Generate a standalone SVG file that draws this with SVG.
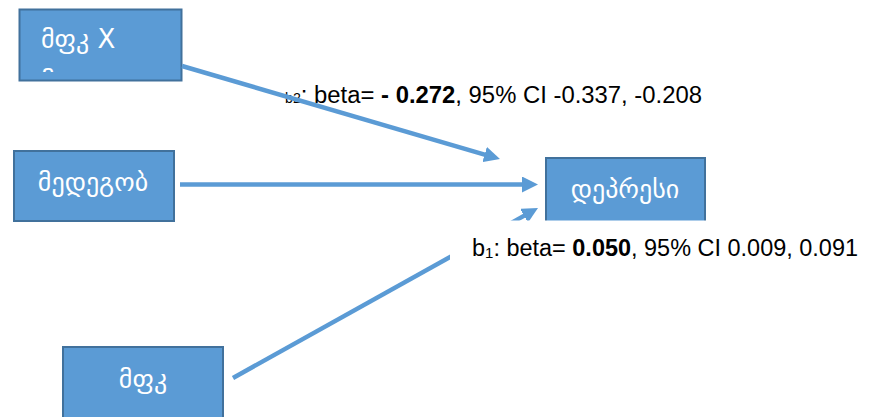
<svg xmlns="http://www.w3.org/2000/svg" width="880" height="417" viewBox="0 0 880 417">
  <defs>
    <style>
      .node { fill: #5B9BD5; stroke: #41719C; stroke-width: 2; }
      .ntext { fill: #FFFFFF; font-family: "DejaVu Sans", "Noto Sans", sans-serif; font-size: 26px; }
      .edge { stroke: #5B9BD5; stroke-width: 4.5; fill: none; }
      .lbl { fill: #000000; font-family: "Liberation Sans", Arial, sans-serif; font-size: 23.5px; }
      .b { font-weight: bold; }
    </style>
    <marker id="head" markerUnits="userSpaceOnUse" markerWidth="16" markerHeight="16" refX="8" refY="8" orient="auto">
      <path d="M0,0 L16,8 L0,16 z" fill="#5B9BD5"/>
    </marker>
    <clipPath id="clipTop">
      <rect x="20" y="10" width="162" height="62"/>
    </clipPath>
  </defs>

  <rect width="880" height="417" fill="#FFFFFF"/>

  <!-- nodes -->
  <g id="node-interaction">
    <rect class="node" x="19.5" y="9.5" width="162" height="71"/>
    <g clip-path="url(#clipTop)">
      <text class="ntext" x="41" y="48">მფკ X</text>
      <text class="ntext" x="41" y="89">მ</text>
    </g>
  </g>
  <g id="node-resilience">
    <rect class="node" x="14" y="151" width="160" height="70"/>
    <text class="ntext" x="93" y="191" text-anchor="middle">მედეგობ</text>
  </g>
  <g id="node-depression">
    <rect class="node" x="546" y="158" width="159" height="70"/>
    <text class="ntext" x="625" y="198" text-anchor="middle">დეპრესი</text>
  </g>
  <g id="node-mpk">
    <rect class="node" x="63" y="347" width="160" height="80"/>
    <text class="ntext" x="143" y="388" text-anchor="middle">მფკ</text>
  </g>

  <!-- b2 label sits under its connector -->
  <text class="lbl" x="285" y="103" textLength="417" lengthAdjust="spacingAndGlyphs"><tspan font-size="14px">b2</tspan>: beta= <tspan class="b">- 0.272</tspan>, 95% CI -0.337, -0.208</text>

  <!-- connectors -->
  <g id="connectors">
    <line class="edge" x1="182" y1="66" x2="492.3" y2="156.8" marker-end="url(#head)"/>
    <line class="edge" x1="180" y1="184.5" x2="530" y2="184.5" marker-end="url(#head)"/>
    <line class="edge" x1="233" y1="378" x2="531" y2="211.9" marker-end="url(#head)"/>
  </g>

  <!-- b1 label box, drawn over the lower connector -->
  <g id="label-b1">
    <rect x="450" y="220.5" width="430" height="50" fill="#FFFFFF"/>
    <text class="lbl" x="472" y="256" textLength="386" lengthAdjust="spacingAndGlyphs">b<tspan font-size="15px" dy="2">1</tspan><tspan dy="-2">: beta= </tspan><tspan class="b">0.050</tspan>, 95% CI 0.009, 0.091</text>
  </g>
</svg>
